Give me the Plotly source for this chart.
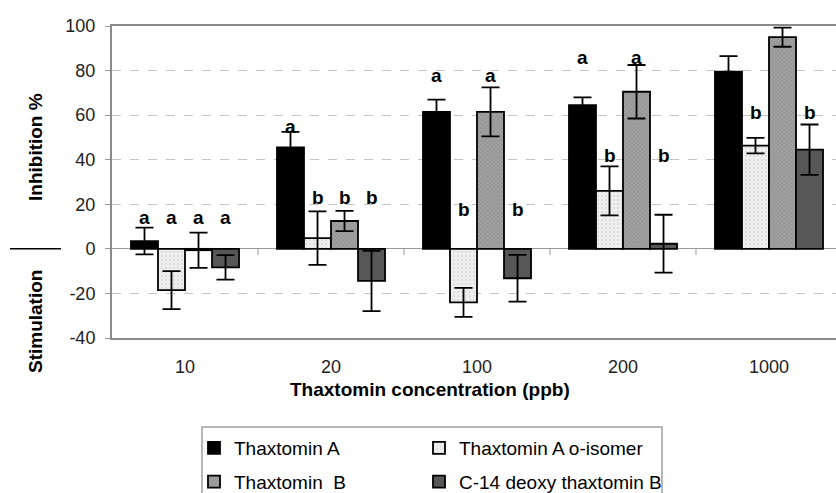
import plotly.graph_objects as go

categories = ["10", "20", "100", "200", "1000"]
series_names = ["Thaxtomin A", "Thaxtomin A o-isomer", "Thaxtomin\u00a0 B", "C-14 deoxy thaxtomin B"]

thax_a = [3.5, 45.5, 61.5, 64.5, 79.5]
thax_a_err = [6.0, 7.0, 5.5, 3.5, 7.0]
thax_a_iso = [-18.5, 4.8, -24.0, 26.0, 46.3]
thax_a_iso_err = [8.5, 12.0, 6.5, 11.0, 3.5]
thax_b = [-0.6, 12.5, 61.5, 70.5, 95.0]
thax_b_err = [7.9, 4.5, 11.0, 12.0, 4.3]
c14_b = [-8.3, -14.4, -13.2, 2.3, 44.5]
c14_b_err = [5.5, 13.5, 10.5, 13.0, 11.3]

letters_a = ["a", "a", "a", "a", "a"]
letters_a_iso = ["a", "b", "b", "b", "b"]
letters_b = ["a", "b", "a", "a", "a"]
letters_c14 = ["a", "b", "b", "b", "b"]
letter_y_a = [14, 55, 78, 86, 103]
letter_y_a_iso = [14, 23, 17.5, 42, 61]
letter_y_b = [14, 23, 78, 86, 103]
letter_y_c14 = [14, 23, 17.5, 42, 61]

y_tick_vals = [-40, -20, 0, 20, 40, 60, 80, 100]
y_tick_text = ["-40", "-20", "0", "20", "40", "60", "80", "100"]

values = [thax_a, thax_a_iso, thax_b, c14_b]
errors = [thax_a_err, thax_a_iso_err, thax_b_err, c14_b_err]
letters = [letters_a, letters_a_iso, letters_b, letters_c14]
letter_ys = [letter_y_a, letter_y_a_iso, letter_y_b, letter_y_c14]

FONT = "Liberation Sans, Arial, sans-serif"
W, H = 836, 493
ML, MR, MT, MB = 112, 0, 26, 155
PW = W - ML - MR
PH = H - MT - MB
BARGAP = 0.26
CAT_PX = 146.0

styles = [
    dict(color="#000000", pattern=None),
    dict(color="#ececec", pattern=dict(shape=".", fgcolor="#c8c8c8", bgcolor="#efefef", size=4, solidity=0.25)),
    dict(color="#8f8f8f", pattern=dict(shape="x", fgcolor="#666666", bgcolor="#a2a2a2", size=3, solidity=0.3)),
    dict(color="#575757", pattern=None),
]
legend_ids = ["legend", "legend2", "legend", "legend2"]

x_idx = list(range(len(categories)))

fig = go.Figure()
for j, name in enumerate(series_names):
    st = styles[j]
    marker = dict(color=st["color"], line=dict(color="#000000", width=1.8))
    if st["pattern"] is not None:
        marker["pattern"] = st["pattern"]
    fig.add_trace(go.Bar(
        x=x_idx, y=values[j], name=name,
        marker=marker,
        error_y=dict(type="data", array=errors[j], color="#000000", thickness=1.8, width=9),
        legend=legend_ids[j], legendgroup=name,
    ))

# significance letters
n = len(series_names)
bw = (1 - BARGAP) / n
annotations = []
for j in range(n):
    for i in x_idx:
        annotations.append(dict(
            x=i + (j - (n - 1) / 2) * bw, y=letter_ys[j][i], xref="x", yref="y",
            text="<b>%s</b>" % letters[j][i], showarrow=False,
            font=dict(family=FONT, size=19, color="#000000"), xanchor="center", yanchor="middle",
        ))

def px_x(p):
    return (p - ML) / PW

def px_y(p):
    return (MT + PH - p) / PH

annotations += [
    dict(text="<b>Inhibition %</b>", x=px_x(35), y=px_y(147), xref="paper", yref="paper",
         xanchor="center", yanchor="middle",
         textangle=-90, showarrow=False, font=dict(family=FONT, size=19, color="#000000")),
    dict(text="<b>Stimulation</b>", x=px_x(35), y=px_y(322), xref="paper", yref="paper",
         xanchor="center", yanchor="middle",
         textangle=-90, showarrow=False, font=dict(family=FONT, size=19, color="#000000")),
    dict(text="<b>Thaxtomin concentration (ppb)</b>", x=px_x(430), y=px_y(389), xref="paper", yref="paper",
         xanchor="center", yanchor="middle",
         showarrow=False, font=dict(family=FONT, size=19, color="#000000")),
]

shapes = [
    dict(type="line", xref="paper", yref="y", x0=px_x(10), x1=px_x(61), y0=0, y1=0,
         line=dict(color="#000000", width=1.5)),
    dict(type="rect", xref="paper", yref="paper", x0=px_x(202), x1=px_x(662), y0=px_y(427), y1=px_y(520),
         line=dict(color="#a0a0a0", width=1.5)),
]
for i in x_idx[:-1]:
    shapes.append(dict(type="line", xref="x", yref="y", ysizemode="pixel", yanchor=0,
                       x0=i + 0.5, x1=i + 0.5, y0=0, y1=-6, line=dict(color="#999999", width=1)))

fig.update_layout(
    width=W, height=H,
    margin=dict(l=ML, r=MR, t=MT, b=MB, pad=0, autoexpand=False),
    paper_bgcolor="#ffffff", plot_bgcolor="#ffffff",
    barmode="group", bargap=BARGAP, bargroupgap=0,
    font=dict(family=FONT, size=18, color="#222222"),
    xaxis=dict(range=[-0.5, -0.5 + PW / CAT_PX], tickvals=x_idx, ticktext=categories,
               showgrid=False, zeroline=False, showline=True, linecolor="#8a8a8a", linewidth=2,
               mirror=True, ticks="", ticklabelstandoff=11,
               tickfont=dict(family=FONT, size=18, color="#222222")),
    yaxis=dict(range=[-40, 100], tickvals=y_tick_vals, ticktext=y_tick_text,
               showgrid=True, gridcolor="#c4c4c4", griddash="dash", gridwidth=1,
               zeroline=True, zerolinecolor="#9a9a9a", zerolinewidth=1,
               showline=True, linecolor="#8a8a8a", linewidth=2,
               ticks="outside", ticklen=5, tickcolor="#9a9a9a", ticklabelstandoff=6,
               tickfont=dict(family=FONT, size=18, color="#222222")),
    legend=dict(x=px_x(194), y=px_y(429), xanchor="left", yanchor="top", orientation="v",
                bgcolor="rgba(0,0,0,0)", borderwidth=0, tracegroupgap=6,
                font=dict(family=FONT, size=19, color="#000000")),
    legend2=dict(x=px_x(419), y=px_y(429), xanchor="left", yanchor="top", orientation="v",
                 bgcolor="rgba(0,0,0,0)", borderwidth=0, tracegroupgap=6,
                 font=dict(family=FONT, size=19, color="#000000")),
    annotations=annotations,
    shapes=shapes,
)

fig.write_html("out.html")
